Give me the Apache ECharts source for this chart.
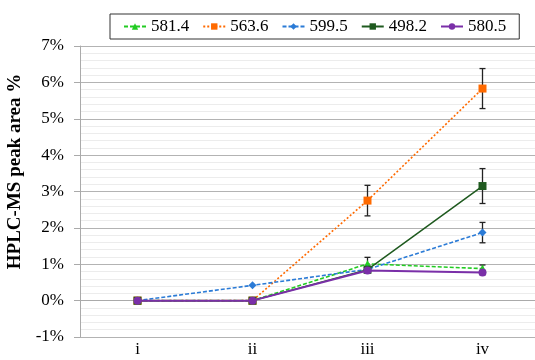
<!DOCTYPE html>
<html><head><meta charset="utf-8">
<script src="https://cdn.jsdelivr.net/npm/echarts@6/dist/echarts.min.js"></script>
<style>html,body{margin:0;padding:0;background:#fff}#c{width:535px;height:360px}</style>
</head><body><div id="c"></div>
<script>
const categories = ['i', 'ii', 'iii', 'iv'];
const seriesNames = ['581.4', '563.6', '599.5', '498.2', '580.5'];
const v581_4 = [0, 0, 1.01, 0.88];
const v563_6 = [0, 0, 2.75, 5.83];
const v599_5 = [0, 0.42, 0.86, 1.87];
const v498_2 = [0, 0, 0.85, 3.15];
const v580_5 = [0, 0, 0.83, 0.77];
const e581_4 = [0, 0, 0.18, 0.1];
const e563_6 = [0, 0, 0.42, 0.55];
const e599_5 = [0, 0, 0.05, 0.28];
const e498_2 = [0, 0, 0.1, 0.48];
const e580_5 = [0, 0, 0.05, 0.06];
const yTicks = ['-1%', '0%', '1%', '2%', '3%', '4%', '5%', '6%', '7%'];

const values = [v581_4, v563_6, v599_5, v498_2, v580_5];
const errors = [e581_4, e563_6, e599_5, e498_2, e580_5];
const colors = ['#22cc22', '#ff6a00', '#2b7bd6', '#1f5a1f', '#7a2fa8'];
const symbols = ['triangle', 'rect', 'diamond', 'rect', 'circle'];
const symSizes = [8, 8, 8, 8, 8];
const lineTypes = [[4, 2], [2, 2], [4, 2], 'solid', 'solid'];
const lineWidths = [1.6, 1.6, 1.6, 1.5, 2];

const chart = echarts.init(document.getElementById('c'), null, {renderer: 'canvas'});
const font = 'Liberation Serif';
const ts = (size, weight, extra) => Object.assign({fontFamily: font, fontSize: size, fontWeight: weight || 'normal', fontStyle: 'normal', color: '#000'}, extra || {});

const series = [];
values.forEach((vals, si) => {
  const data = vals.map((v, i) => [i, v - errors[si][i], v + errors[si][i]]).filter((d, i) => errors[si][i] > 0);
  series.push({
    type: 'custom',
    name: seriesNames[si] + '_err',
    z: 1,
    silent: true,
    renderItem: function (params, api) {
      const x = api.coord([api.value(0), 0])[0];
      const lo = api.coord([api.value(0), api.value(1)])[1];
      const hi = api.coord([api.value(0), api.value(2)])[1];
      const st = {stroke: '#222', lineWidth: 1.3};
      return {type: 'group', children: [
        {type: 'line', shape: {x1: x, y1: lo, x2: x, y2: hi}, style: st},
        {type: 'line', shape: {x1: x - 3, y1: lo, x2: x + 3, y2: lo}, style: st},
        {type: 'line', shape: {x1: x - 3, y1: hi, x2: x + 3, y2: hi}, style: st}
      ]};
    },
    data: data
  });
});
values.forEach((vals, si) => {
  series.push({
    type: 'line',
    name: seriesNames[si],
    data: vals,
    z: 2 + si,
    symbol: symbols[si],
    symbolSize: symSizes[si],
    showAllSymbol: true,
    color: colors[si],
    itemStyle: {color: colors[si], borderWidth: 0},
    lineStyle: {color: colors[si], width: lineWidths[si], type: lineTypes[si]},
    emphasis: {disabled: true},
    animation: false
  });
});

chart.setOption({
  animation: false,
  backgroundColor: '#fff',
  textStyle: ts(16),
  legend: {
    data: seriesNames,
    top: 14, left: 110,
    width: 500,
    itemWidth: 22, itemHeight: 8, itemGap: 13,
    padding: [4, 13, 4, 13],
    borderColor: '#333', borderWidth: 1,
    textStyle: ts(17)
  },
  grid: {left: 80, width: 460, top: 46, bottom: 23, containLabel: false, outerBoundsMode: 'none'},
  xAxis: {
    type: 'category', data: categories, boundaryGap: true,
    axisLine: {show: true, lineStyle: {color: '#aaa'}},
    axisTick: {show: false},
    axisLabel: ts(17, 'normal', {margin: 4}),
    splitLine: {show: false}
  },
  yAxis: {
    type: 'value', min: -1, max: 7, interval: 1,
    name: 'HPLC-MS peak area %', nameLocation: 'middle', nameGap: 43,
    nameTextStyle: ts(19, 'bold', {padding: [0, 0, 0, 40]}),
    axisLine: {show: true, lineStyle: {color: '#aaa'}},
    axisTick: {show: true, length: 6, inside: false, lineStyle: {color: '#aaa'}},
    axisLabel: ts(17, 'normal', {margin: 16, formatter: v => yTicks[Math.round(v) + 1]}),
    splitLine: {show: true, lineStyle: {color: '#b3b3b3', width: 1}},
    minorTick: {show: false, splitNumber: 5},
    minorSplitLine: {show: true, lineStyle: {color: '#ececec', width: 1}}
  },
  series: series
});
</script></body></html>
